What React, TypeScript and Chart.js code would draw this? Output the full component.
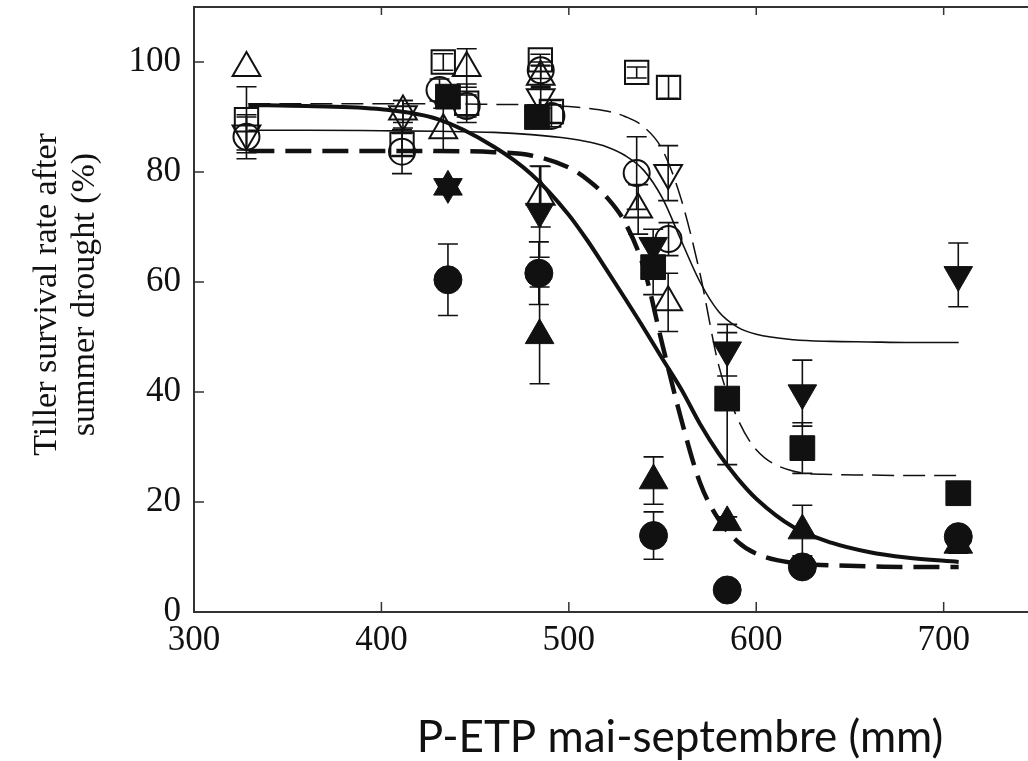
import React, { useEffect, useRef } from 'react';
import { Chart, registerables } from 'chart.js';

Chart.register(...registerables);

// ---------- axes ----------
const xTicks = [300, 400, 500, 600, 700];
const yTicks = [0, 20, 40, 60, 80, 100];
const X_MIN = 300;
const X_MAX = 745;
const Y_MIN = 0;
const Y_MAX = 110;

const yTitleLines = ['Tiller survival rate after', 'summer drought (%)'];
const xTitle = 'P-ETP mai-septembre (mm)';

// ---------- fitted curves ----------
const curveX = [329, 360, 400, 430, 460, 480, 500, 510, 520, 530, 540, 550, 560, 570, 580, 590, 600, 620, 640, 660, 680, 708];
const thickSolidY = [92.2, 92.0, 91.4, 89.6, 84.6, 79.6, 72.2, 67.5, 62.3, 57.0, 51.6, 46.0, 40.5, 34.2, 28.8, 24.3, 20.6, 15.4, 12.6, 10.9, 9.9, 9.1];
const thickDashY = [83.8, 83.8, 83.8, 83.8, 83.6, 83.0, 80.8, 78.6, 75.5, 70.8, 62.6, 48.5, 35.0, 23.5, 16.8, 12.8, 10.6, 8.9, 8.5, 8.3, 8.2, 8.2];
const thinSolidY = [87.6, 87.6, 87.5, 87.4, 87.2, 86.8, 86.1, 85.5, 84.6, 83.0, 80.3, 75.2, 67.5, 60.0, 54.6, 51.8, 50.5, 49.5, 49.2, 49.1, 49.0, 49.0];
const thinDashY = [92.4, 92.4, 92.4, 92.4, 92.3, 92.2, 91.9, 91.6, 91.1, 90.1, 88.2, 84.0, 75.0, 61.5, 44.8, 35.2, 29.5, 25.6, 25.0, 24.9, 24.8, 24.8];

// ---------- observed points (x, y, symmetric error) ----------
const openTriUpX = [328, 411.5, 433, 445.5, 485, 485, 537, 553];
const openTriUpY = [98.9, 91.0, 87.6, 98.9, 97.3, 75.5, 73.2, 56.3];
const openTriUpErr = [0, 2, 4, 3.5, 2, 5.5, 4.5, 5.3];

const openTriDownX = [328, 411.5, 485, 553];
const openTriDownY = [87.0, 90.5, 93.6, 79.8];
const openTriDownErr = [3, 2.5, 2, 5];

const openSquareX = [328, 411, 433, 445.5, 484.8, 490.7, 536.2, 553.2];
const openSquareY = [89.5, 85.0, 100.0, 92.5, 100.4, 91.0, 98.1, 95.4];
const openSquareErr = [6, 2, 1.5, 3.5, 1, 2, 1, 2];

const openCircleX = [328, 411, 431, 445.5, 485, 490.7, 536.2, 553.2];
const openCircleY = [86.4, 83.7, 94.9, 92.0, 98.5, 90.2, 79.8, 67.8];
const openCircleErr = [4, 4, 2, 2, 1.5, 2, 6.6, 3];

const filledSquareX = [435.5, 483, 545, 584.5, 624.6, 707.8];
const filledSquareY = [93.7, 90.0, 62.7, 38.8, 29.8, 21.6];
const filledSquareErr = [2, 2, 5, 12, 4.6, 1.5];

const filledCircleX = [435.5, 484, 545.2, 584.5, 624.6, 707.8];
const filledCircleY = [60.4, 61.6, 13.9, 4.0, 8.2, 13.7];
const filledCircleErr = [6.5, 5.7, 4.3, 0, 1.5, 1];

const filledTriUpX = [435.5, 484.4, 545.2, 584.5, 624.6, 707.8];
const filledTriUpY = [77.3, 50.3, 23.9, 16.3, 14.8, 12.2];
const filledTriUpErr = [0, 8.8, 4.3, 1, 4.6, 1.5];

const filledTriDownX = [435.5, 484.4, 545, 584.5, 624.6, 707.8];
const filledTriDownY = [77.3, 72.8, 66.6, 47.6, 39.8, 61.3];
const filledTriDownErr = [0, 8.3, 3, 4.7, 6, 5.8];

const INK = '#111111';
const FRAME = '#333333';

function pts(X: number[], Y: number[]) {
  return X.map((x, i) => ({ x, y: Y[i] }));
}

function markers(label: string, X: number[], Y: number[], Err: number[], shape: string, rot: number, r: number, filled: boolean) {
  return {
    type: 'scatter',
    label,
    data: pts(X, Y),
    errorBars: Err,
    showLine: false,
    pointStyle: shape,
    pointRotation: rot,
    pointRadius: r,
    pointHoverRadius: r,
    pointBackgroundColor: filled ? INK : 'rgba(0,0,0,0)',
    pointBorderColor: INK,
    pointBorderWidth: filled ? 1 : 2,
    order: 0,
  };
}

function curve(label: string, Y: number[], width: number, dash: number[]) {
  return {
    type: 'scatter',
    label,
    data: pts(curveX, Y),
    showLine: true,
    borderColor: INK,
    borderWidth: width,
    borderDash: dash,
    borderCapStyle: 'butt',
    pointRadius: 0,
    pointHoverRadius: 0,
    cubicInterpolationMode: 'monotone',
    fill: false,
    order: 10,
  };
}

const errorBarPlugin = {
  id: 'errorBars',
  beforeDatasetsDraw(chart: any) {
    const ctx = chart.ctx;
    const xs = chart.scales.x;
    const ys = chart.scales.y;
    ctx.save();
    ctx.strokeStyle = INK;
    ctx.lineWidth = 1.6;
    chart.data.datasets.forEach((ds: any) => {
      if (!ds.errorBars) return;
      ds.data.forEach((p: any, i: number) => {
        const e = ds.errorBars[i];
        if (!e) return;
        const px = xs.getPixelForValue(p.x);
        const top = ys.getPixelForValue(p.y + e);
        const bot = ys.getPixelForValue(p.y - e);
        ctx.beginPath();
        ctx.moveTo(px, top);
        ctx.lineTo(px, bot);
        ctx.moveTo(px - 10, top);
        ctx.lineTo(px + 10, top);
        ctx.moveTo(px - 10, bot);
        ctx.lineTo(px + 10, bot);
        ctx.stroke();
      });
    });
    ctx.restore();
  },
};

const framePlugin = {
  id: 'frame',
  afterDraw(chart: any) {
    const ctx = chart.ctx;
    const { left, right, top, bottom } = chart.chartArea;
    const xs = chart.scales.x;
    const ys = chart.scales.y;
    ctx.save();
    ctx.strokeStyle = FRAME;
    ctx.lineWidth = 2;
    ctx.beginPath();
    ctx.moveTo(right + 2, top);
    ctx.lineTo(left, top);
    ctx.lineTo(left, bottom);
    ctx.lineTo(right + 2, bottom);
    ctx.stroke();
    ctx.lineWidth = 1.5;
    ctx.beginPath();
    xTicks.forEach((v) => {
      const px = xs.getPixelForValue(v);
      ctx.moveTo(px, bottom);
      ctx.lineTo(px, bottom - 10);
      ctx.moveTo(px, top);
      ctx.lineTo(px, top + 8);
    });
    yTicks.forEach((v) => {
      const py = ys.getPixelForValue(v);
      ctx.moveTo(left, py);
      ctx.lineTo(left + 10, py);
    });
    ctx.stroke();

    // axis titles
    ctx.fillStyle = INK;
    ctx.textAlign = 'center';
    ctx.textBaseline = 'middle';
    ctx.font = '34px "Liberation Serif"';
    const cy = (top + bottom) / 2 - 15;
    yTitleLines.forEach((line, i) => {
      ctx.save();
      ctx.translate(47 + i * 38, cy);
      ctx.rotate(-Math.PI / 2);
      ctx.fillText(line, 0, 0);
      ctx.restore();
    });
    ctx.font = '44px Lato';
    ctx.fillText(xTitle, 680, 738);
    ctx.restore();
  },
};

function zeroPadding(s: any) {
  s.paddingTop = 0;
  s.paddingBottom = 0;
  s.paddingLeft = 0;
  s.paddingRight = 0;
}

export default function App() {
  const ref = useRef<HTMLCanvasElement | null>(null);

  useEffect(() => {
    if (!ref.current) return;
    const tickFont = { family: '"Liberation Serif"', size: 35 };
    const chart = new Chart(ref.current, {
      type: 'scatter',
      data: {
        datasets: [
          markers('openTriUp', openTriUpX, openTriUpY, openTriUpErr, 'triangle', 0, 16, false),
          markers('openTriDown', openTriDownX, openTriDownY, openTriDownErr, 'triangle', 180, 16, false),
          markers('openSquare', openSquareX, openSquareY, openSquareErr, 'rect', 0, 16.5, false),
          markers('openCircle', openCircleX, openCircleY, openCircleErr, 'circle', 0, 13, false),
          markers('filledSquare', filledSquareX, filledSquareY, filledSquareErr, 'rect', 0, 17.5, true),
          markers('filledCircle', filledCircleX, filledCircleY, filledCircleErr, 'circle', 0, 14, true),
          markers('filledTriUp', filledTriUpX, filledTriUpY, filledTriUpErr, 'triangle', 0, 16.5, true),
          markers('filledTriDown', filledTriDownX, filledTriDownY, filledTriDownErr, 'triangle', 180, 16.5, true),
          curve('thickSolid', thickSolidY, 4, []),
          curve('thickDash', thickDashY, 4.5, [26, 11]),
          curve('thinSolid', thinSolidY, 1.6, []),
          curve('thinDash', thinDashY, 1.5, [22, 9]),
        ] as any,
      },
      options: {
        responsive: false,
        animation: false,
        layout: { autoPadding: false, padding: { top: 7, left: 0, right: 0, bottom: 0 } },
        plugins: { legend: { display: false }, tooltip: { enabled: false } },
        events: [],
        scales: {
          x: {
            type: 'linear',
            min: X_MIN,
            max: X_MAX,
            grid: { display: false, drawTicks: false },
            border: { display: false },
            ticks: { font: tickFont, color: INK, padding: 8, maxRotation: 0, autoSkip: false },
            afterBuildTicks: (s: any) => {
              s.ticks = xTicks.map((v) => ({ value: v }));
            },
            afterFit: (s: any) => {
              s.height = 149;
              zeroPadding(s);
            },
          },
          y: {
            type: 'linear',
            min: Y_MIN,
            max: Y_MAX,
            grid: { display: false, drawTicks: false },
            border: { display: false },
            ticks: { font: tickFont, color: INK, padding: 13, autoSkip: false },
            afterBuildTicks: (s: any) => {
              s.ticks = yTicks.map((v) => ({ value: v }));
            },
            afterFit: (s: any) => {
              s.width = 194;
              zeroPadding(s);
            },
          },
        },
      } as any,
      plugins: [errorBarPlugin, framePlugin],
    });
    return () => chart.destroy();
  }, []);

  return (
    <div style={{ position: 'fixed', left: 0, top: 0, width: '1028px', height: '761px', background: '#fff' }}>
      <canvas ref={ref} width={1028} height={761} style={{ display: 'block' }} />
    </div>
  );
}
